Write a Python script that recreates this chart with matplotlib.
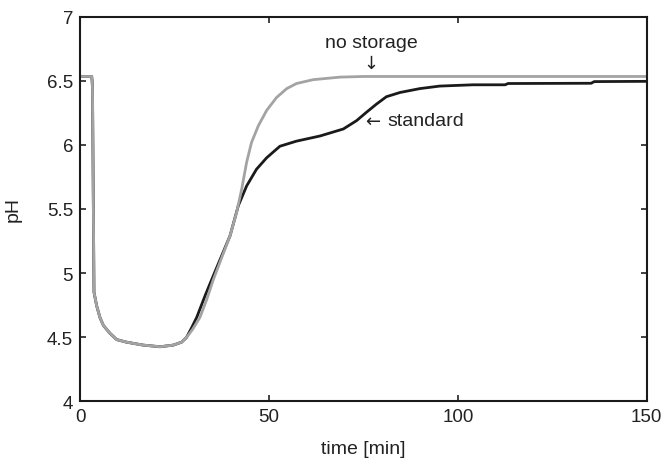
import matplotlib
matplotlib.use("Agg")
import matplotlib.pyplot as plt

plt.rcParams['font.family'] = ['Liberation Sans', 'DejaVu Sans']

# --- data ---
t_early = [0, 3.1, 3.2, 3.3, 3.7, 4.4, 5.3, 6.2, 7.9, 9.7, 12.3, 16.7, 21.2, 24.7, 26.9, 28.2]
ph_early = [6.535, 6.535, 6.5, 6.45, 4.85, 4.745, 4.65, 4.59, 4.53, 4.48, 4.46, 4.437,
            4.424, 4.437, 4.46, 4.497]

t_std = t_early + [29.5, 30.9, 33.2, 35.3, 39.7, 41.9, 44.1, 46.7, 49.4, 52.9, 57.3,
                   63.5, 69.7, 73.2, 75.8, 78.5, 81.1, 84.7, 89.9, 95.2, 104, 112.5,
                   113.3, 135.3, 136.1, 150]
ph_std = ph_early + [4.57, 4.654, 4.83, 4.98, 5.29, 5.526, 5.68, 5.81, 5.90, 5.99, 6.03,
                     6.07, 6.125, 6.19, 6.255, 6.32, 6.377, 6.41, 6.44, 6.46, 6.47, 6.47,
                     6.48, 6.482, 6.495, 6.497]

t_nost = t_early + [29.8, 31.75, 33.5, 35.3, 39.7, 41.45, 42.8, 44.1, 45.4, 47.2, 49.4,
                    52.0, 54.7, 57.3, 61.7, 68.8, 75, 150]
ph_nost = ph_early + [4.56, 4.654, 4.79, 4.95, 5.29, 5.474, 5.656, 5.865, 6.02, 6.15, 6.27,
                      6.37, 6.44, 6.48, 6.51, 6.53, 6.535, 6.535]

xticks = [0, 50, 100, 150]
yticks = [4, 4.5, 5, 5.5, 6, 6.5, 7]
ytick_labels = ['4', '4.5', '5', '5.5', '6', '6.5', '7']

fig = plt.figure(figsize=(6.64, 4.6), dpi=100)
ax = fig.add_axes([0.1205, 0.126, 0.8535, 0.835])

ax.plot(t_std, ph_std, color='#1a1a1a', lw=2.0)
ax.plot(t_nost, ph_nost, color='#a3a3a3', lw=2.0)

ax.set_xlim(0, 150)
ax.set_ylim(4, 7)
ax.set_xticks(xticks)
ax.set_yticks(yticks)
ax.set_yticklabels(ytick_labels)
ax.tick_params(direction='in', length=4, width=1.2, top=True, right=True,
               labelsize=13.5, colors='#222222', pad=5)
for s in ax.spines.values():
    s.set_linewidth(1.5)
    s.set_color('#1a1a1a')

ax.set_xlabel('time [min]', fontsize=14, color='#222222', labelpad=11)
ax.set_ylabel('pH', fontsize=14, color='#222222', labelpad=18)

# annotations
ax.text(77.2, 6.80, 'no storage', fontsize=14, ha='center', va='center', color='#222222')
ax.text(77.0, 6.64, '\u2193', fontsize=13, ha='center', va='center', color='#222222',
        family=['DejaVu Sans'])
ax.text(75.5, 6.19, '\u2190', fontsize=13, ha='left', va='center', color='#222222',
        family=['DejaVu Sans'])
ax.text(81.3, 6.19, 'standard', fontsize=14, ha='left', va='center', color='#222222')

fig.savefig('out.png', dpi=100)
